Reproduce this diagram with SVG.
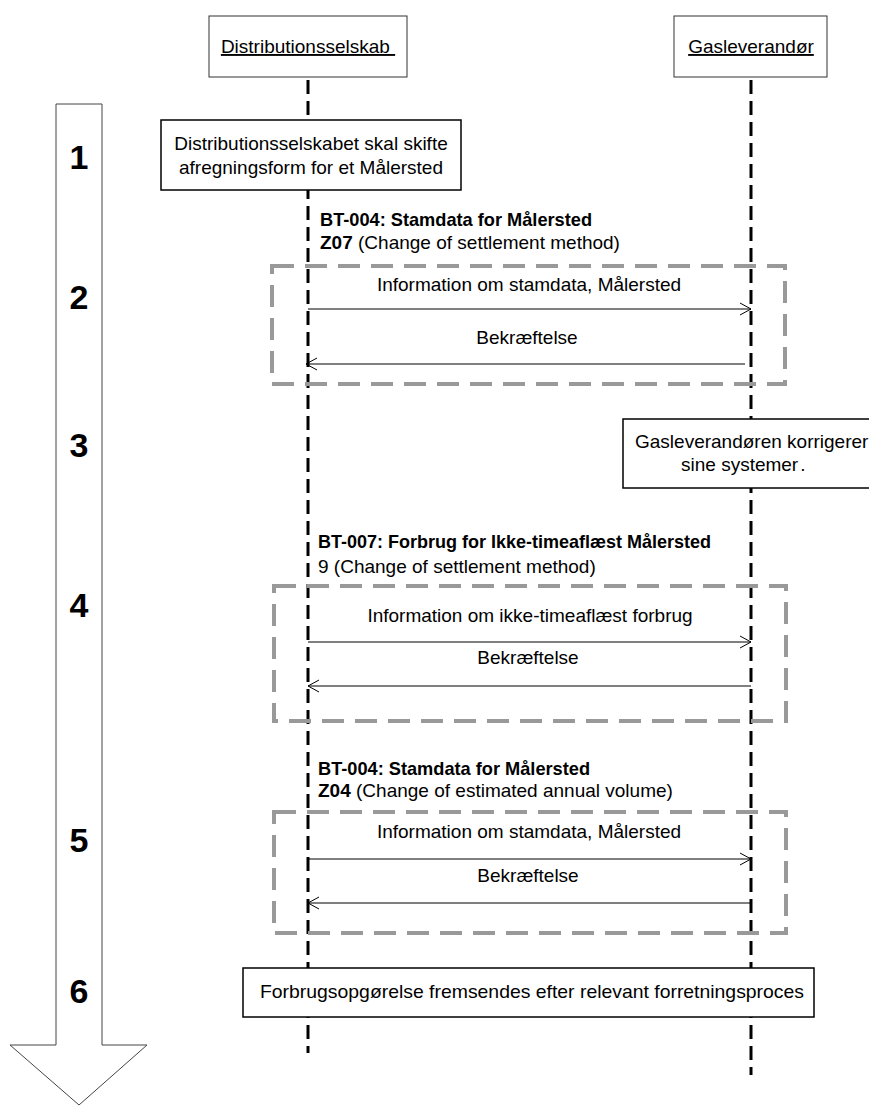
<svg xmlns="http://www.w3.org/2000/svg" width="869" height="1106" viewBox="0 0 869 1106">
<defs>
<style>
text{font-family:"Liberation Sans",Arial,sans-serif;fill:#000}
.t{font-size:19px}
.c{text-anchor:middle}
.b{font-weight:bold}
.num{font-size:34px;font-weight:bold;text-anchor:middle}
.hdr{fill:#fff;stroke:#333;stroke-width:1}
.box{fill:#fff;stroke:#000;stroke-width:1.5}
.life{stroke:#000;stroke-width:3;stroke-dasharray:14 7;fill:none}
.frame{fill:none;stroke:#999;stroke-width:4;stroke-dasharray:22 11}
.msg{stroke:#000;stroke-width:1;fill:none;marker-end:url(#open)}
</style>
<marker id="open" markerUnits="userSpaceOnUse" markerWidth="14" markerHeight="14" refX="12" refY="7" orient="auto">
<path d="M1,1 L12,7 L1,13" fill="none" stroke="#000" stroke-width="1"/>
</marker>
</defs>
<rect width="869" height="1106" fill="#fff"/>

<g id="step-arrow">
<path d="M56,104 L102,104 L102,1045 L147,1045 L79,1105 L10,1045 L56,1045 Z" fill="#fff" stroke="#444" stroke-width="1"/>
<text class="num" x="79" y="169">1</text>
<text class="num" x="79" y="309">2</text>
<text class="num" x="79" y="457">3</text>
<text class="num" x="79" y="617">4</text>
<text class="num" x="79" y="852">5</text>
<text class="num" x="79" y="1003">6</text>
</g>

<g id="connectors">
<line class="life" x1="308" y1="80" x2="308" y2="1053"/>
<line class="life" x1="751" y1="80" x2="751" y2="1075"/>
<line class="msg" x1="308" y1="309" x2="751" y2="309"/>
<line class="msg" x1="745" y1="364" x2="306" y2="364"/>
<line class="msg" x1="308" y1="642" x2="751" y2="642"/>
<line class="msg" x1="751" y1="686" x2="308" y2="686"/>
<line class="msg" x1="308" y1="859" x2="751" y2="859"/>
<line class="msg" x1="751" y1="903" x2="308" y2="903"/>
</g>

<g id="header-distributionsselskab">
<rect class="hdr" x="209" y="16" width="198" height="61"/>
<text class="t c" x="308" y="53" text-decoration="underline">Distributionsselskab&#160;</text>
</g>
<g id="header-gasleverandor">
<rect class="hdr" x="674" y="16" width="153" height="61"/>
<text class="t c" x="751" y="53" text-decoration="underline">Gasleverandør</text>
</g>

<g id="step1">
<rect class="box" x="161" y="120" width="300" height="70"/>
<text class="t c" x="311" y="150">Distributionsselskabet skal skifte</text>
<text class="t c" x="311" y="174">afregningsform for et Målersted</text>
</g>

<g id="step2">
<rect class="frame" x="272" y="266" width="513" height="118"/>
<text class="t b" x="320" y="226" font-size="18" textLength="272" lengthAdjust="spacingAndGlyphs">BT-004: Stamdata for Målersted</text>
<text class="t" x="320" y="249"><tspan class="b">Z07</tspan> (Change of settlement method)</text>
<text class="t c" x="529" y="291">Information om stamdata, Målersted</text>
<text class="t c" x="527" y="344">Bekræftelse</text>
</g>

<g id="step3">
<rect class="box" x="623" y="419" width="260" height="69"/>
<text class="t" x="635" y="448">Gasleverandøren korrigerer</text>
<text class="t" x="681" y="471">sine systemer<tspan dx="3">.</tspan></text>
</g>

<g id="step4">
<rect class="frame" x="274" y="586" width="512" height="135"/>
<text class="t b" x="318" y="548" font-size="18" textLength="393" lengthAdjust="spacingAndGlyphs">BT-007: Forbrug for Ikke-timeaflæst Målersted</text>
<text class="t" x="318" y="573">9 (Change of settlement method)</text>
<text class="t c" x="530" y="622">Information om ikke-timeaflæst forbrug</text>
<text class="t c" x="528" y="664">Bekræftelse</text>
</g>

<g id="step5">
<rect class="frame" x="274" y="812" width="512" height="121"/>
<text class="t b" x="318" y="775" font-size="18" textLength="272" lengthAdjust="spacingAndGlyphs">BT-004: Stamdata for Målersted</text>
<text class="t" x="318" y="797"><tspan class="b">Z04</tspan> (Change of estimated annual volume)</text>
<text class="t c" x="529" y="838">Information om stamdata, Målersted</text>
<text class="t c" x="528" y="882">Bekræftelse</text>
</g>

<g id="step6">
<rect class="box" x="243" y="968" width="571" height="49"/>
<text class="t c" x="532" y="998" textLength="544" lengthAdjust="spacingAndGlyphs">Forbrugsopgørelse fremsendes efter relevant forretningsproces</text>
</g>
</svg>
